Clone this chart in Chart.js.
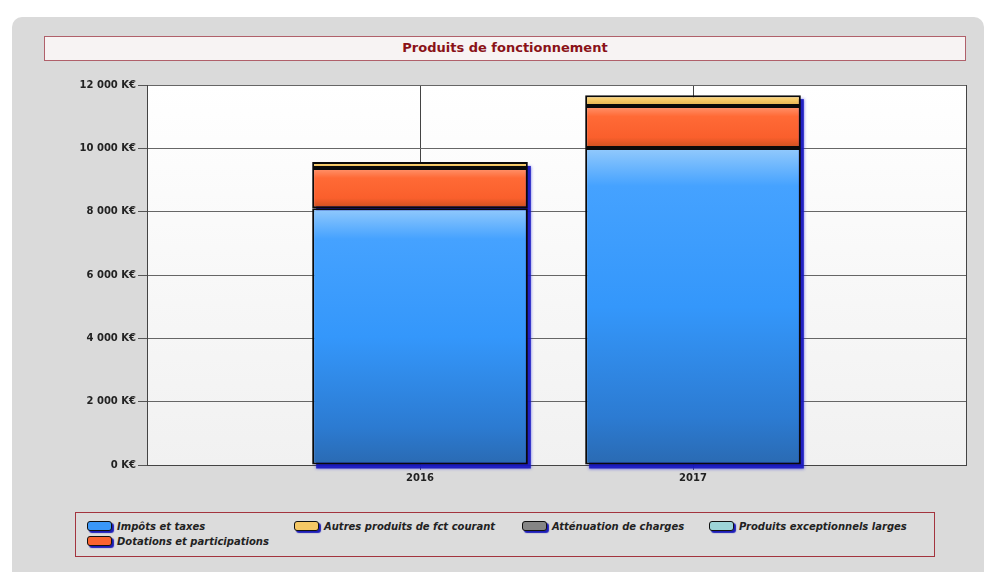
<!DOCTYPE html>
<html>
<head>
<meta charset="utf-8">
<script src="https://cdn.jsdelivr.net/npm/chart.js@4/dist/chart.umd.min.js"></script>
<style>
  html, body { margin: 0; padding: 0; background: #fff; }
  body { width: 992px; height: 572px; position: relative; overflow: hidden; font-family: "DejaVu Sans", sans-serif; }
  #panel { position: absolute; left: 12px; top: 17px; width: 972px; height: 570px; background: #dadada; border-radius: 10px 10px 0 0; }
  #titleBox { position: absolute; left: 44px; top: 36px; width: 922px; height: 25px; box-sizing: border-box;
    background: #f7f3f3; border: 1px solid #b0606a; color: #8a1218; font-weight: bold; font-size: 13px;
    text-align: center; line-height: 22px; }
  #chart { position: absolute; left: 0; top: 0; }
  #legend { position: absolute; left: 75px; top: 512px; width: 860px; height: 45px; box-sizing: border-box;
    background: #dcdcdc; border: 1.5px solid #a3343e; }
  .item { position: absolute; display: flex; align-items: center; font-weight: bold; font-style: italic;
    font-size: 10px; color: #222; white-space: nowrap; height: 14px; }
  .sw { width: 23px; height: 8px; border: 1.5px solid #111; border-radius: 3px; margin-right: 5px;
    box-shadow: 2px 2px 1px #1c1cb8; }
</style>
</head>
<body>
<div id="panel"></div>
<div id="titleBox">Produits de fonctionnement</div>
<canvas id="chart" width="992" height="572"></canvas>
<div id="legend"></div>
<script>
const years = ['2016', '2017'];
const impots = [8110, 10010];
const dotations = [1270, 1330];
const autres = [190, 340];
const attenuation = [0, 0];
const exceptionnels = [0, 0];
const yTicks = [0, 2000, 4000, 6000, 8000, 10000, 12000];

// empty slots on each side so the two bars sit at 1/3 and 2/3 of the plot
const labels = ['', ...years, ''];
const pad = arr => [null, ...arr, null];

const palettes = {
  blue: [[0, '#93cafc'], [0.12, '#45a2ff'], [0.5, '#3497fb'], [0.85, '#2c7bd2'], [1, '#2a6ab2']],
  orange: [[0, '#ff9670'], [0.25, '#ff6a36'], [0.75, '#fa5f2c'], [1, '#c9501f']],
  yellow: [[0, '#fbd98a'], [0.5, '#f5c865'], [1, '#e3b04c']],
  gray: [[0, '#a0a0a0'], [1, '#707070']],
  cyan: [[0, '#b5e3e6'], [1, '#8ccbd0']]
};

function barGradient(name, fallback) {
  return function (context) {
    const chart = context.chart;
    const y = chart.scales.y;
    if (!chart.chartArea || !y || context.dataIndex === undefined) return fallback;
    const ds = chart.data.datasets;
    let base = 0;
    for (let i = 0; i < context.datasetIndex; i++) base += ds[i].data[context.dataIndex] || 0;
    const val = ds[context.datasetIndex].data[context.dataIndex] || 0;
    const top = y.getPixelForValue(base + val);
    const bottom = y.getPixelForValue(base);
    if (!(bottom - top > 0)) return fallback;
    const g = chart.ctx.createLinearGradient(0, top, 0, bottom);
    palettes[name].forEach(([p, c]) => g.addColorStop(p, c));
    return g;
  };
}

const plotBackground = {
  id: 'plotBackground',
  beforeDraw(chart) {
    const { ctx, chartArea: a } = chart;
    const g = ctx.createLinearGradient(0, a.top, 0, a.bottom);
    g.addColorStop(0, '#ffffff');
    g.addColorStop(1, '#f1f1f1');
    ctx.save();
    ctx.fillStyle = g;
    ctx.fillRect(a.left, a.top, a.right - a.left, a.bottom - a.top);
    ctx.restore();
  }
};

// blue drop shadow behind each stack (the bar element clips its own shadow)
const barShadow = {
  id: 'barShadow',
  beforeDatasetsDraw(chart) {
    const ctx = chart.ctx;
    const metas = chart.getSortedVisibleDatasetMetas();
    ctx.save();
    ctx.fillStyle = 'rgba(22, 22, 190, 0.9)';
    ctx.shadowColor = 'rgba(40, 40, 230, 0.7)';
    ctx.shadowBlur = 3;
    chart.data.labels.forEach((_, idx) => {
      let top = Infinity, bottom = -Infinity, left = 0, width = 0;
      metas.forEach(m => {
        const el = m.data[idx];
        const v = chart.data.datasets[m.index].data[idx];
        if (!el || !v) return;
        top = Math.min(top, el.y, el.base);
        bottom = Math.max(bottom, el.y, el.base);
        left = el.x - el.width / 2;
        width = el.width;
      });
      if (width > 0) ctx.fillRect(left + 4, top + 4, width - 1, bottom - top);
    });
    ctx.restore();
  }
};

const series = [
  { label: 'Impôts et taxes', data: impots, color: 'blue', solid: '#3a97f8' },
  { label: 'Dotations et participations', data: dotations, color: 'orange', solid: '#fa6330' },
  { label: 'Autres produits de fct courant', data: autres, color: 'yellow', solid: '#f5c865' },
  { label: 'Atténuation de charges', data: attenuation, color: 'gray', solid: '#858585' },
  { label: 'Produits exceptionnels larges', data: exceptionnels, color: 'cyan', solid: '#9dd4d8' }
];

const fmt = v => String(v).replace(/\B(?=(\d{3})+(?!\d))/g, ' ') + ' K€';

const chart = new Chart(document.getElementById('chart'), {
  type: 'bar',
  data: {
    labels,
    datasets: series.map(s => ({
      label: s.label,
      data: pad(s.data),
      backgroundColor: barGradient(s.color, s.solid),
      borderColor: '#0a0a0a',
      borderWidth: ctx => (ctx.raw ? 2 : 0),
      borderSkipped: false,
      categoryPercentage: 1,
      barPercentage: 0.79
    }))
  },
  plugins: [plotBackground, barShadow],
  options: {
    responsive: false,
    devicePixelRatio: 1,
    animation: false,
    layout: { padding: { left: 0, top: 85, right: 26, bottom: 82 } },
    plugins: { legend: { display: false }, title: { display: false }, tooltip: { enabled: false } },
    scales: {
      x: {
        stacked: true,
        offset: false,
        grid: {
          offset: false, color: '#444', lineWidth: 1, tickLength: 5,
          tickColor: ctx => (ctx.tick && ctx.tick.label ? '#555' : 'rgba(0,0,0,0)')
        },
        border: { color: '#444', width: 1 },
        ticks: { color: '#222', font: { family: 'DejaVu Sans', size: 10, weight: 'bold' }, maxRotation: 0, autoSkip: false, padding: 2 },
        afterFit(scale) { scale.height = 25; }
      },
      y: {
        stacked: true,
        min: 0,
        max: 12000,
        afterBuildTicks(scale) { scale.ticks = yTicks.map(v => ({ value: v })); },
        grid: { color: '#666', lineWidth: 1, tickLength: 9, tickColor: '#555' },
        border: { color: '#444', width: 1 },
        ticks: { color: '#222', font: { family: 'DejaVu Sans', size: 10, weight: 'bold' }, padding: 2, callback: v => fmt(v) },
        afterFit(scale) { scale.width = 147; }
      }
    }
  }
});

// legend laid out column by column, like the original
const legendCols = [11, 218, 446, 633];
const legendSlots = [[0, 0], [0, 1], [1, 0], [2, 0], [3, 0]];
const legendEl = document.getElementById('legend');
chart.data.datasets.forEach((ds, i) => {
  const [col, row] = legendSlots[i];
  const item = document.createElement('div');
  item.className = 'item';
  item.style.left = legendCols[col] + 'px';
  item.style.top = (6 + row * 15) + 'px';
  const sw = document.createElement('span');
  sw.className = 'sw';
  sw.style.background = series[i].solid;
  item.appendChild(sw);
  item.appendChild(document.createTextNode(ds.label));
  legendEl.appendChild(item);
});
</script>
</body>
</html>
